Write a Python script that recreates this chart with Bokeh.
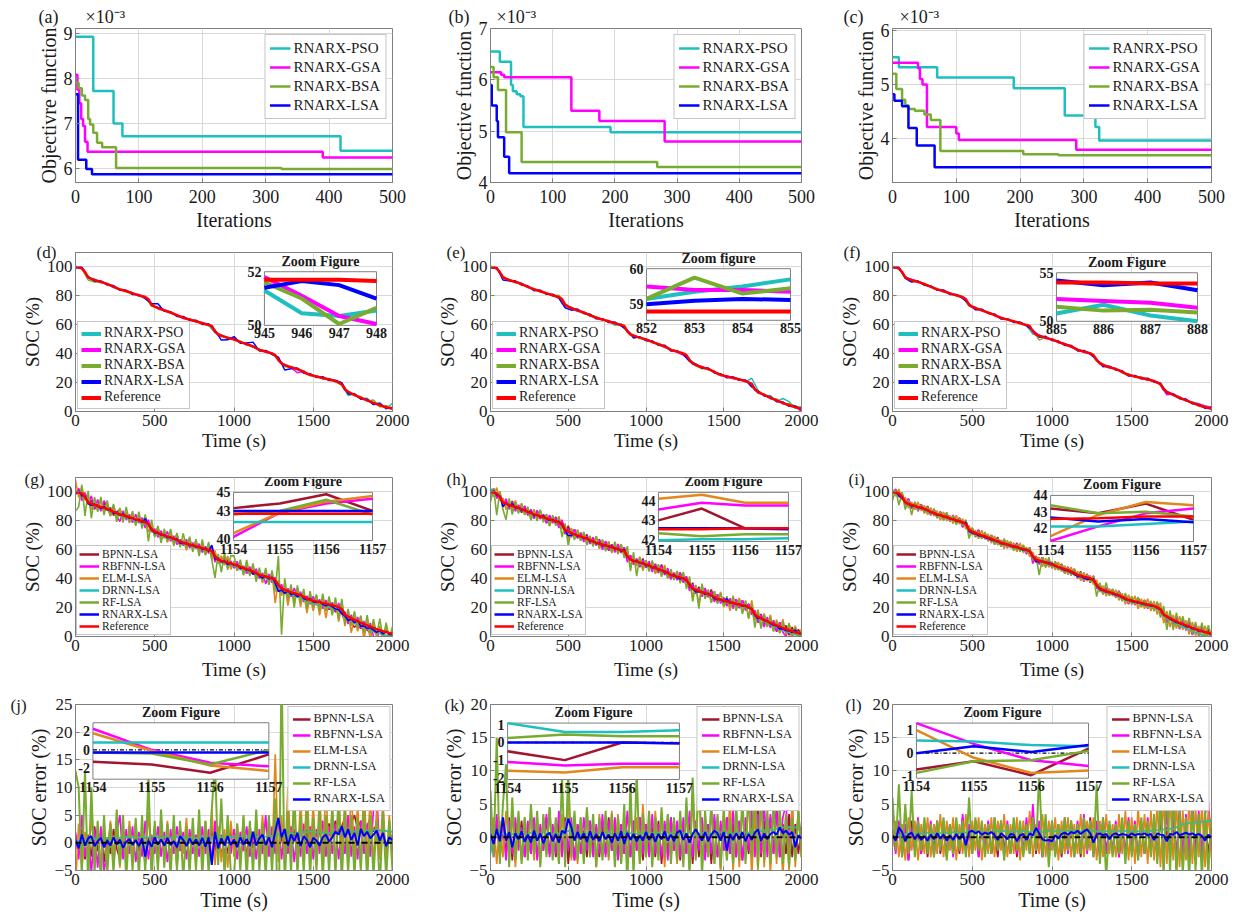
from bokeh.plotting import figure
from bokeh.layouts import gridplot
from bokeh.models import Range1d, Legend, LegendItem, FixedTicker, Span, Title
from bokeh.embed import file_html
from bokeh.resources import INLINE
from bokeh.core.properties import value

SERIF = "Liberation Serif"
CYAN = "#1FBFBF"; MAG = "#FF00FF"; GRN = "#77AC30"; BLU = "#0000FF"
RED = "#FF0000"; DRED = "#A2142F"; ORG = "#E3861B"
TXT = "#1A1A1A"; AXC = "#7F7F7F"

# ---------------- Row 1: convergence (x 1e-3) ----------------
ITER_TICKS = [0, 100, 200, 300, 400, 500]
a_pso_x = [0, 28, 60, 74, 418, 500]; a_pso_y = [8.92, 7.72, 7.0, 6.72, 6.40, 6.40]
a_gsa_x = [0, 3, 6, 9, 12, 15, 19, 390, 500]; a_gsa_y = [8.08, 7.75, 7.45, 7.1, 6.95, 6.6, 6.38, 6.25, 6.25]
a_bsa_x = [0, 5, 10, 15, 20, 23, 28, 34, 42, 64, 325, 500]; a_bsa_y = [7.9, 7.78, 7.62, 7.52, 7.1, 6.98, 6.8, 6.58, 6.48, 6.02, 6.0, 6.0]
a_lsa_x = [0, 4, 17, 26, 500]; a_lsa_y = [7.65, 6.2, 6.0, 5.88, 5.88]

b_pso_x = [0, 15, 33, 36, 42, 48, 53, 193, 500]; b_pso_y = [6.55, 6.35, 5.9, 5.78, 5.72, 5.68, 5.08, 4.98, 4.98]
b_gsa_x = [0, 17, 22, 130, 175, 280, 500]; b_gsa_y = [6.15, 6.1, 6.05, 5.4, 5.2, 4.8, 4.8]
b_bsa_x = [0, 5, 12, 25, 50, 268, 500]; b_bsa_y = [6.25, 6.05, 5.8, 4.98, 4.4, 4.3, 4.3]
b_lsa_x = [0, 2, 10, 12, 22, 30, 500]; b_lsa_y = [5.9, 5.5, 5.2, 4.88, 4.5, 4.18, 4.18]

c_pso_x = [0, 10, 70, 190, 270, 318, 324, 500]; c_pso_y = [5.5, 5.32, 5.13, 4.93, 4.43, 4.22, 3.97, 3.97]
c_gsa_x = [0, 40, 43, 47, 54, 100, 104, 288, 500]; c_gsa_y = [5.4, 5.3, 5.1, 5.0, 4.22, 4.1, 3.98, 3.8, 3.8]
c_bsa_x = [0, 6, 15, 20, 25, 35, 50, 60, 75, 205, 260, 500]; c_bsa_y = [5.2, 4.92, 4.72, 4.62, 4.55, 4.52, 4.45, 4.35, 3.78, 3.72, 3.70, 3.70]
c_lsa_x = [0, 3, 15, 25, 38, 66, 500]; c_lsa_y = [4.82, 4.7, 4.6, 4.2, 3.88, 3.48, 3.48]

# ---------------- Reference SOC (every 20 s) ----------------
T = list(range(0, 2001, 20))
REF = [
    100.0, 99.6, 99.0, 96.5, 92.8, 91.8, 91.0, 90.3, 89.6, 89.0,
    88.2, 87.2, 86.2, 85.3, 84.5, 83.9, 83.2, 82.5, 81.7, 81.0,
    80.4, 79.7, 79.0, 77.8, 73.8, 72.6, 71.6, 70.7, 70.0, 69.2,
    68.4, 67.6, 66.6, 65.7, 64.9, 64.2, 63.6, 63.0, 62.4, 61.7,
    61.1, 60.4, 59.9, 59.2, 55.5, 53.2, 52.4, 51.8, 51.1, 50.4,
    49.8, 49.0, 48.1, 47.3, 46.5, 45.8, 45.0, 43.8, 42.6, 42.0,
    41.4, 40.8, 40.2, 39.0, 35.6, 33.2, 32.2, 31.3, 30.6, 30.0,
    29.3, 28.5, 27.4, 26.1, 25.4, 24.8, 24.2, 23.7, 23.2, 22.7,
    22.2, 21.6, 21.0, 20.2, 19.0, 15.2, 13.6, 12.5, 11.5, 10.5,
    9.5, 8.6, 7.7, 6.8, 6.0, 5.1, 4.3, 3.6, 3.0, 2.4,
    1.9]
T2 = T[::2]
REF2 = REF[::2]

# ---------------- Row 2: deviations of estimates from reference (every 40 s) ----------------
d_pso = [0.3, 0.5, -0.4, 0.6, -0.3, 0.4, -0.5, 0.3, 0.6, -0.4,
         0.2, -0.6, 0.5, -0.3, 0.4, 0.7, -0.5, 0.3, -0.4, 0.6,
         0.2, -0.3, -1.0, 0.5, -0.4, 0.3, 0.6, -0.5, 0.4, -0.3,
         0.5, -0.6, 1.0, -0.8, 0.4, -0.5, 0.6, -0.3, 0.4, -0.6,
         0.5, 0.3, -0.4, -2.5, 0.6, -0.5, 1.5, -1.0, 2.0, -1.5,
         4.0]
d_gsa = [-0.4, 0.6, 0.3, -0.5, 0.4, -0.3, 0.5, -0.6, 0.3, 0.4,
         -0.5, 0.6, -0.4, 0.3, 0.5, -0.3, 0.4, -0.6, 0.5, -0.4,
         0.3, 0.6, -0.5, 0.4, -0.3, 0.5, -0.4, 0.6, -0.3, 0.4,
         -0.5, 0.3, 0.6, -0.4, -0.3, -2.5, 0.5, -0.4, 0.6, -0.5,
         0.4, -0.3, 0.6, -1.2, 0.5, -0.8, 0.6, -1.0, 1.2, -0.8,
         0.5]
d_bsa = [0.5, -0.3, -1.8, -1.5, 0.4, -0.5, 0.6, -0.4, 0.3, 0.5,
         -0.4, 0.6, -1.0, 0.4, -0.3, 0.5, -0.6, 0.4, 0.3, -0.5,
         0.6, -0.4, 0.5, -0.3, -0.6, 0.4, -0.5, 0.6, -0.4, 0.3,
         0.5, -0.4, 0.6, -1.2, 0.4, -0.3, 0.5, -0.6, 0.4, -0.5,
         0.6, -0.3, -1.0, 0.5, -0.6, 0.8, -0.5, 2.0, -1.0, 1.0,
         0.5]
d_lsa = [-0.6, 0.8, 0.5, -0.8, 0.7, -0.6, 0.9, -0.5, 0.6, -0.8,
         0.5, -0.9, 0.8, 3.0, -0.7, 0.6, -0.8, 0.9, -0.6, 0.7,
         -0.9, 0.6, 0.8, -3.0, -1.5, 2.0, -0.8, 0.9, 3.0, -0.7,
         0.8, -0.6, 2.0, -3.5, -1.0, 0.8, -0.9, 0.7, -0.6, 0.9,
         -0.8, 0.7, 1.0, -1.5, 0.8, -0.9, 0.7, -1.2, 0.9, -0.7,
         0.8]
e_pso = [0.4, -0.3, 0.5, -0.4, 0.3, 0.6, -0.5, 0.4, -0.3, 0.5,
         -0.6, 0.4, 0.3, -0.5, -0.8, 0.6, -0.4, 0.5, -0.3, 0.4,
         -1.5, 0.6, -0.5, 0.4, -0.3, 0.5, -0.4, 0.6, -0.5, 0.3,
         0.5, -0.6, 0.4, 0.3, -0.5, 0.6, -0.4, 0.5, -0.3, 0.6,
         0.4, -0.5, 4.0, 1.0, -0.6, 1.5, -0.8, 3.0, 2.5, -1.0,
         1.5]
e_gsa = [-0.3, 0.5, 0.4, -0.5, 0.3, -0.4, 0.6, -0.3, 0.5, -0.4,
         0.3, 0.6, -0.5, 0.4, -0.3, 0.5, -0.6, 0.4, 0.3, -0.5,
         0.6, -0.4, 0.5, -0.3, 0.4, -0.5, 0.6, -0.4, 0.3, 0.5,
         -0.4, -1.2, 0.4, -0.5, 0.6, -0.3, 0.4, -0.6, 0.5, -0.4,
         0.3, -0.5, 0.6, -1.0, 0.4, -0.6, 0.5, -0.8, 1.0, 0.5,
         -2.0]
e_bsa = [0.5, -0.4, 0.6, 0.3, -0.5, 0.4, -0.3, 0.6, -0.4, 0.5,
         -0.3, 1.5, 1.0, -0.5, 0.4, -0.6, 0.5, 0.3, -0.4, 0.6,
         -0.5, 0.4, -0.3, 0.5, -0.6, 0.4, 0.3, -0.5, -0.6, 0.4,
         0.3, -0.5, 0.6, -0.4, -1.0, 0.5, -0.4, 0.6, -0.3, 0.5,
         -0.6, 0.4, -0.5, -1.0, 0.6, -0.4, 1.0, -0.6, 1.2, 0.6,
         0.4]
e_lsa = [-0.5, 0.7, -1.8, -0.6, 0.8, -0.7, 0.6, -0.9, 0.7, -0.6,
         0.8, -0.7, -2.0, -1.5, 0.9, -0.6, 0.7, -0.8, 0.6, -0.9,
         0.7, -0.6, 0.8, -1.5, 0.6, -0.8, 0.7, -0.6, 0.9, -0.7,
         0.6, -0.8, -1.0, 0.7, -0.6, 0.8, -0.7, 0.6, -0.9, 0.7,
         -0.6, 0.8, -2.0, 0.6, -0.8, 0.7, -0.9, 0.6, -0.7, 0.8,
         -0.6]
f_pso = [0.5, -0.4, 0.6, -0.3, 0.4, -0.5, 0.3, 0.6, -0.4, 0.5,
         -0.3, 0.4, -0.6, 0.5, -0.4, 0.3, 0.6, -0.5, 0.4, -0.3,
         0.5, -0.4, -2.0, 0.4, -0.6, 0.5, -0.3, 0.4, -0.5, 0.6,
         -0.4, 0.3, 0.5, -0.6, 0.4, -0.3, 0.5, -0.4, 0.6, -0.5,
         0.4, -0.3, 0.6, -0.5, 0.4, 0.8, -0.4, 0.6, 1.0, 0.8,
         0.6]
f_gsa = [-0.4, 0.5, -0.3, 0.4, 0.6, -0.5, 0.3, -0.4, 0.5, -0.6,
         0.4, 0.3, -0.5, -1.0, 0.6, -0.4, 0.5, -0.3, 0.4, -0.5,
         0.6, -0.4, 0.3, 0.5, -0.6, 0.4, -0.3, 0.5, -0.4, 0.6,
         -0.5, 0.4, -0.3, 0.5, -0.4, 0.6, -0.5, 0.3, -0.4, 0.5,
         -0.6, 0.4, -0.5, -2.0, 0.6, -0.4, 0.5, -0.3, 1.0, 0.8,
         1.2]
f_bsa = [0.4, -0.5, 0.3, -0.6, 0.5, -0.4, 0.6, -0.3, 0.4, -0.5,
         0.3, 0.6, -0.4, -1.0, 0.5, -0.3, 0.4, -0.6, 0.5, -0.4,
         0.3, -0.5, 0.6, -3.0, 0.4, -0.3, 0.5, -0.4, 0.6, -0.5,
         0.4, 0.3, -0.6, 0.5, -0.4, 0.3, -0.5, 0.6, -0.4, 0.5,
         -0.3, 0.4, -0.6, 0.5, -0.4, 0.6, -0.3, 0.4, -0.5, 0.6,
         -0.4]
f_lsa = [-0.6, 0.8, -0.7, -1.5, 0.6, -0.8, 0.7, -0.6, 0.9, -0.7,
         0.6, -0.8, 0.7, -1.2, 0.8, -0.6, 0.7, -0.9, 0.6, -0.8,
         0.7, -0.6, 0.8, -1.0, 0.9, -0.7, 0.6, -0.8, 0.7, -0.6,
         0.8, -0.7, 0.6, -1.2, 0.7, -0.6, 0.8, -0.9, 0.7, -0.6,
         0.8, -0.7, 0.6, -0.8, 0.7, -0.6, 0.9, -0.7, 0.6, -0.8,
         0.7]

# ---------------- Rows 3-4: SOC errors (reference - estimate), every 20 s ----------------
j_bp = [1.5, -2.0, 2.5, -3.0, 1.0, -2.5, 3.0, -1.5, 2.0, -3.5,
        1.0, -2.0, 2.5, -1.0, -3.0, 2.0, -2.5, 1.5, -3.0, 2.5,
        -1.5, 2.0, -4.0, 1.0, -2.0, 3.0, -2.5, 1.5, -1.0, 2.0,
        -3.0, 1.5, -2.0, 2.5, -1.5, 1.0, -3.0, 2.0, -2.5, 1.5,
        -2.0, 2.5, -3.5, 3.0, -1.5, 2.0, -2.5, 1.0, -2.0, 2.5,
        -1.5, 2.0, -3.0, 1.5, -2.5, 3.0, -1.0, 2.0, -2.5, 1.5,
        -2.0, 2.5, -3.0, 3.5, -2.0, 1.5, -2.5, 3.0, -2.0, 2.5,
        -1.5, 3.0, -2.0, 2.5, -3.0, 2.0, -1.5, 3.0, -2.5, 2.0,
        3.5, 1.0, 4.0, 2.0, 3.0, 4.5, 1.5, 3.5, 5.0, 2.5,
        4.0, 1.5, 3.0, 4.5, 2.0, 3.5, -1.0, 2.5, -2.0, 1.5,
        1.0]
j_rbf = [2.0, -3.0, 5.0, -2.5, 1.5, -5.5, 2.5, -4.5, 3.0, -5.0,
         -2.0, 3.5, -4.0, 2.0, 5.0, -3.0, 2.5, -2.0, 3.0, -3.5,
         2.0, -2.5, 4.0, -3.0, 1.5, -2.0, 3.0, -2.5, 2.0, -3.5,
         2.5, -2.0, 3.0, -1.5, 2.0, -3.0, 2.5, -2.0, 1.5, -2.5,
         3.0, -2.0, 2.5, -3.5, 4.0, -2.0, 1.5, -2.5, 3.0, -2.0,
         2.5, -3.0, 2.0, -1.5, 3.0, -2.5, 2.0, -3.0, 2.5, -2.0,
         5.0, -2.5, 3.0, -2.0, 4.5, -3.0, 2.5, -2.0, 3.0, -3.5,
         2.0, -2.5, 3.5, -2.0, 3.0, -3.0, 2.5, -2.0, 4.0, -2.5,
         3.0, -2.0, 3.5, -3.0, 2.5, -2.0, 5.0, -2.5, 3.0, -3.0,
         4.0, -2.0, 3.5, -2.5, 6.0, 9.0, -2.0, 3.0, -2.5, 2.0,
         -1.5]
j_elm = [-8.0, 3.5, -4.5, 2.0, -3.0, 4.5, -2.5, 3.0, -4.0, 2.5,
         -3.5, 4.0, -2.0, 3.0, -4.5, 2.5, -3.0, 4.0, -2.5, 3.5,
         -4.0, 2.0, -3.5, 5.5, -3.0, 2.5, -4.0, 3.5, -2.5, 4.0,
         -3.0, 2.5, -4.5, 3.0, -2.0, 4.5, -3.5, 2.5, -4.0, 3.0,
         -3.0, 4.0, -2.5, 6.0, -4.0, 3.0, -3.5, 2.5, -4.5, 4.0,
         -2.5, 3.5, -3.0, 4.5, -4.0, 2.5, -3.5, 4.0, -2.0, 5.0,
         -3.0, 4.5, -4.0, 16.0, -3.5, 5.0, -4.5, 10.0, -3.0, 6.0,
         -4.0, 8.0, -3.5, 10.0, -2.5, 7.0, -4.0, 9.0, -3.0, 10.0,
         -3.5, 6.0, -4.5, 10.0, -2.5, 8.0, -4.0, 10.0, -3.0, 7.0,
         -4.5, 11.0, -3.5, 9.0, -4.0, 6.0, -3.0, 8.0, -4.5, 5.0,
         -3.0]
j_drnn = [0.2, 0.4, 0.3, 0.5, 0.6, 0.5, 0.7, 0.6, 0.8, 0.7,
          0.8, 0.9, 0.8, 1.0, 0.9, 1.0, 1.1, 0.9, 1.0, 1.2,
          1.0, 1.1, 0.9, 1.0, 1.2, 1.1, 1.0, 0.9, 1.1, 1.0,
          0.9, 1.0, 1.1, 0.9, 1.0, 0.8, 0.9, 1.0, 0.8, 0.9,
          1.0, 0.9, 0.8, 1.0, 0.9, 1.1, 1.0, 0.9, 1.1, 1.0,
          1.2, 1.1, 1.0, 1.2, 1.1, 1.3, 1.2, 1.1, 1.0, 1.2,
          1.1, 1.3, 1.2, 1.4, 1.5, 1.4, 1.6, 1.5, 1.7, 1.6,
          1.8, 1.9, 2.0, 1.9, 2.1, 2.0, 1.9, 2.0, 1.8, 1.9,
          1.7, 1.8, 1.9, 1.7, 1.8, 2.0, 1.9, 2.1, 2.0, 2.2,
          2.1, 2.3, 2.2, 2.0, 2.4, 2.1, 2.3, 2.0, 2.2, 1.9,
          2.1]
j_rf = [13.0, 10.0, -6.0, 13.0, -8.0, 10.0, -5.5, 4.0, -7.0, 5.0,
        -6.0, 3.5, -5.5, 6.0, -4.0, 5.0, -6.5, 3.0, -5.0, 4.5,
        -6.0, 5.0, -5.5, 12.0, -7.0, 4.0, -5.0, 6.0, -4.5, 3.5,
        -6.0, 5.0, -5.0, 4.0, -6.5, 3.0, -5.5, 4.5, -5.0, 6.0,
        -6.0, 4.0, -5.5, 6.0, 15.0, -4.0, 8.0, -6.0, 5.0, -5.5,
        -6.0, 3.5, -5.0, 5.0, -6.5, 4.0, -5.5, 6.0, -5.0, 3.5,
        -6.0, 5.0, -5.5, 8.0, -20.0, 32.0, -8.0, 6.0, -5.5, 10.0,
        -6.0, 5.0, -5.5, 7.0, -6.0, 4.5, -5.0, 6.0, -6.5, 5.0,
        -5.5, 7.0, -6.0, 8.0, -7.0, 6.0, -5.5, 5.0, -6.0, 4.5,
        -5.0, 6.0, -7.0, 5.0, -6.0, 4.0, -8.0, 5.5, -6.5, 4.0,
        -5.0]
j_rnarx = [0.5, -1.0, 1.5, -0.5, 0.8, 1.2, -0.6, 0.3, 0.9, -0.8,
           0.4, -0.5, 1.0, -0.3, 0.6, -0.9, 0.2, 0.7, -0.4, 0.5,
           -0.6, 0.8, -2.5, 0.4, -0.7, 1.0, -0.3, 0.6, -0.5, 0.9,
           -0.4, 0.3, -0.8, 1.2, 0.5, -0.6, 0.8, -0.3, 0.6, -0.5,
           0.9, -0.7, 1.0, -4.0, 2.0, -1.0, 0.8, -0.5, 1.2, -0.4,
           0.6, -0.8, 1.0, -0.3, 0.7, -0.6, 2.0, -0.5, 0.8, 1.5,
           -0.4, 1.0, -0.8, 2.0, 4.5, 1.0, 2.5, -0.5, 1.5, 0.3,
           1.8, -0.6, 1.2, 0.5, -0.8, 0.9, 0.4, -0.5, 1.0, 1.5,
           0.2, 1.0, 2.0, 1.5, 3.0, 1.0, 2.5, 0.5, 1.8, -0.5,
           2.5, 1.2, 2.0, 0.8, 1.5, 2.2, 0.4, 1.8, -0.6, 1.0,
           0.5]

k_bp = [1.0, -2.0, 2.5, -3.0, 1.5, -2.5, 3.0, -3.5, 2.0, -1.5,
        2.5, -3.0, 1.0, -2.5, 2.0, -3.0, 1.5, -2.0, 3.0, -2.5,
        1.5, -3.0, 2.0, -2.5, 3.0, -4.0, 1.5, -3.5, 2.0, -2.5,
        1.0, -3.0, 2.5, -2.0, 1.5, -3.0, 2.0, -2.5, 3.0, -2.0,
        1.5, -3.0, 2.0, -2.5, 1.0, -3.0, 2.5, -2.0, 3.0, -3.5,
        2.0, -2.5, 1.5, -3.0, 2.5, -4.0, 2.0, -2.5, 3.0, -2.0,
        1.5, -3.5, 2.0, -2.5, 3.0, -4.0, 2.5, -3.0, 1.5, -2.5,
        2.0, -4.0, 2.5, -3.0, 1.5, -2.0, 3.0, -2.5, 2.0, -3.0,
        2.5, -3.5, 1.5, -2.5, 3.0, -2.0, 4.0, -3.0, 2.5, -2.0,
        3.0, -2.5, 4.5, -3.0, 2.0, -2.5, 3.5, -3.0, 2.0, -2.5,
        1.5]
k_rbf = [2.5, -3.0, 3.5, -2.0, 2.0, -3.5, 2.5, -2.5, 3.0, -2.0,
         1.5, -3.0, 2.5, -2.5, 3.0, -3.5, 2.0, -2.0, 3.5, -3.0,
         2.0, -2.5, 4.0, -3.0, 2.5, -2.0, 3.0, -3.5, 2.0, -2.5,
         3.0, -2.0, 2.5, -3.0, 2.0, -2.5, 3.5, -3.0, 2.5, -2.0,
         3.0, -3.5, 2.0, -2.5, 4.0, -3.0, 2.5, -2.0, 3.0, -2.5,
         2.0, -3.0, 3.5, -2.5, 2.0, -3.0, 2.5, -3.5, 3.0, -2.0,
         2.5, -3.0, 3.0, -2.5, 4.0, -3.0, 2.5, -2.0, 3.0, -3.5,
         2.0, -2.5, 3.5, -3.0, 2.5, -2.0, 3.0, -2.5, 4.0, -3.0,
         2.5, -3.5, 3.0, -2.0, 4.0, -3.0, 3.5, -2.5, 5.0, -3.0,
         3.5, -2.5, 4.0, -3.0, 3.0, 5.0, -2.5, 4.5, -3.0, 4.0,
         -2.0]
k_elm = [-1.0, 3.0, -4.0, 2.5, -3.0, 4.0, -2.5, 3.5, -4.5, 2.0,
         -3.5, 3.0, -2.0, 4.0, -3.5, 2.5, -4.0, 3.0, -2.5, 4.5,
         -3.0, 2.5, -4.0, 3.5, -2.5, 6.0, -3.5, 2.5, -4.0, 3.0,
         -2.5, 4.0, -3.0, 2.5, -4.5, 3.5, -3.0, 2.0, -3.5, 4.0,
         -2.5, 3.5, -4.0, 3.0, -3.5, 4.5, -2.5, 3.0, -4.0, 5.0,
         -3.0, 2.5, -3.5, 4.0, -2.5, 3.0, -4.5, 3.5, -3.0, 2.5,
         -4.0, 3.0, -3.5, 4.5, -4.0, 6.0, -3.0, 9.0, -4.5, 3.5,
         -3.0, 5.0, -4.0, 3.0, -5.5, 4.5, -3.5, 6.0, -5.0, 3.5,
         -4.5, 5.0, -3.5, 7.0, -6.0, 4.0, -5.0, 6.0, -4.5, 3.5,
         -5.5, 5.0, -4.0, 4.5, -6.0, 3.5, -5.0, 5.5, -4.5, 4.0,
         -3.0]
k_drnn = [-2.5, 0.5, 0.8, 0.3, 0.6, 0.4, 0.7, 0.5, 0.3, 0.6,
          0.8, 0.5, 0.4, 0.7, 0.6, 0.3, 0.5, 0.8, 0.6, 0.4,
          0.5, 0.7, 0.6, 0.4, 0.8, 1.0, 0.6, 0.5, 0.7, 0.4,
          0.6, 0.5, 0.8, 0.6, 0.4, 0.7, 0.5, 0.6, 0.8, 0.5,
          0.4, 0.6, 0.7, 0.5, 0.8, 0.6, 0.4, 0.5, 0.7, 0.6,
          0.5, 0.8, 0.6, 0.4, 0.7, 0.5, 0.6, 0.8, 0.5, 0.6,
          0.4, 0.7, 0.6, 0.5, 0.8, 0.6, 0.7, 0.5, 0.6, 0.8,
          0.6, 0.5, 0.7, 0.6, 0.8, 0.5, 0.7, 0.6, 0.5, 0.8,
          0.7, 0.6, 0.8, 0.7, 0.9, 0.8, 1.0, 0.9, 1.1, 1.0,
          1.2, 1.1, 1.3, 1.2, 1.5, 1.4, 1.6, 1.3, 1.5, 1.2,
          1.0]
k_rf = [7.0, -3.0, 15.0, -4.0, 5.0, 11.0, -4.5, 6.0, -3.5, 4.0,
        -4.0, 3.0, -3.5, 5.0, -2.5, 4.0, -4.5, 3.5, -3.0, 4.5,
        -3.5, 3.0, -4.0, 9.0, -4.5, 10.0, -3.0, 4.0, -3.5, 3.0,
        -4.0, 4.5, -3.0, 3.5, -4.5, 3.0, -3.5, 4.0, -3.0, 3.5,
        -4.5, 3.0, -4.0, 5.0, -7.0, 8.0, -6.0, 10.0, -4.0, 3.5,
        -3.0, 4.0, -4.5, 3.0, -3.5, 4.5, -3.0, 3.5, -4.0, 3.0,
        -3.5, 4.0, -4.5, 6.0, -6.0, 9.0, -3.5, 12.0, -6.0, 4.0,
        -3.0, 5.0, -4.0, 3.5, -4.5, 4.0, -3.5, 3.0, -4.0, 5.0,
        -3.5, 6.0, -4.0, 8.0, -3.0, 9.0, -4.5, 7.0, -3.5, 4.0,
        -4.0, 5.0, -3.0, 4.5, -4.0, 3.5, -4.5, 3.0, -3.5, 4.0,
        -3.0]
k_rnarx = [0.5, -1.0, 1.2, -0.6, 3.0, -0.5, 0.8, -1.5, 0.6, -0.3,
           0.9, -0.7, 0.4, -0.8, 1.0, -0.5, 0.6, -0.9, 0.3, 0.7,
           -0.6, 0.5, -0.8, 1.0, 0.6, 2.8, 1.5, -0.5, 0.8, -0.3,
           0.6, -0.7, 0.9, -0.4, 0.5, -0.6, 0.8, -0.3, 0.4, -0.8,
           0.6, -0.5, 0.9, -1.0, 0.7, -0.4, 0.5, -0.6, 0.3, -0.5,
           0.8, -0.4, 0.6, -0.7, 0.5, -0.3, 0.9, -0.5, 0.4, -0.6,
           0.7, 1.0, -0.4, 0.6, -0.8, 0.5, 1.2, 0.4, -0.5, 0.8,
           -0.6, 0.4, 1.0, 0.6, -0.5, 0.8, -2.0, 0.5, -0.4, 0.6,
           -0.3, 0.8, -0.6, 0.5, -0.4, 0.7, 1.2, -0.5, 0.6, -0.3,
           0.5, 0.8, 0.4, 1.5, 0.6, 1.0, 0.4, 0.8, -1.5, 0.3,
           -0.2]

l_bp = [1.0, -2.0, 2.0, -3.0, 1.5, -3.5, 2.5, -2.0, 1.0, -2.5,
        2.0, -3.0, 1.5, -2.0, 2.5, -2.5, 1.0, -3.0, 2.0, -2.0,
        1.5, -2.5, 3.0, -2.0, 1.0, -2.5, 2.5, -3.0, 1.5, -2.0,
        2.0, -2.5, 1.0, -3.0, 2.5, -2.0, 1.5, -2.5, 2.0, -3.0,
        1.0, -2.5, 2.0, -2.0, 3.5, -2.5, 1.5, -3.0, 2.5, -2.0,
        1.5, -2.5, 2.0, -3.0, 1.0, -2.0, 2.5, -2.5, 1.5, -3.0,
        2.0, -2.0, 3.0, -2.5, 1.5, -3.0, 2.5, -2.0, 1.0, -2.5,
        2.0, -3.0, 1.5, -2.5, 2.5, -2.0, 1.0, -3.0, 2.0, -2.5,
        1.5, -2.0, 2.5, -3.0, 3.0, -2.5, 1.5, -2.0, 2.0, -3.5,
        3.5, -2.5, 2.0, -3.0, 4.5, -2.0, 2.5, -3.0, 3.0, -2.5,
        1.5]
l_rbf = [1.5, -2.5, 2.5, -1.5, 2.0, -3.5, 1.5, -2.0, 3.0, -2.5,
         2.0, -1.5, 2.5, -3.0, 1.5, -2.0, 2.5, -2.5, 2.0, -3.0,
         1.5, -2.0, 3.5, -2.5, 2.0, -1.5, 2.5, -3.0, 2.0, -2.0,
         2.5, -2.5, 3.0, -2.0, 1.5, -3.0, 2.5, -2.0, 2.0, -2.5,
         1.5, -2.0, 3.0, -2.5, 5.0, -2.0, 2.5, -3.0, 2.0, -2.0,
         2.5, -2.5, 1.5, -2.0, 3.0, -2.5, 2.0, -3.0, 2.5, -2.0,
         3.5, -2.5, 2.0, -3.0, 2.5, -2.0, 3.0, -2.5, 2.0, -2.0,
         2.5, -3.0, 2.0, -2.5, 3.0, -2.0, 2.5, -3.0, 2.0, -2.5,
         3.0, -2.0, 2.5, -3.0, 3.5, -2.5, 4.0, -3.0, 3.0, -2.5,
         4.5, -3.0, 3.5, -2.5, 5.0, -3.0, 4.0, -2.5, 3.5, 5.5,
         -2.0]
l_elm = [-1.5, 2.5, -3.0, 2.0, -3.5, 3.0, -2.0, 2.5, -3.5, 2.0,
         -2.5, 3.0, -3.0, 2.0, -2.5, 3.5, -3.0, 2.5, -2.0, 3.0,
         -3.5, 2.0, -2.5, 3.5, -3.0, 2.5, -2.0, 3.0, -3.5, 2.0,
         -2.5, 3.0, -3.0, 2.5, -2.0, 3.5, -3.0, 2.0, -2.5, 3.0,
         -3.5, 2.5, -2.0, 4.0, -3.0, 2.0, -2.5, 3.5, -3.0, 2.5,
         -2.0, 3.0, -3.5, 2.5, -2.5, 3.0, -3.0, 2.0, -2.5, 3.5,
         -3.0, 2.5, -2.0, 3.0, -3.5, 2.5, -3.0, 3.5, -2.5, 2.0,
         -3.0, 3.5, -2.5, 4.0, -3.5, 3.0, -4.0, 4.5, -3.0, 3.5,
         -4.0, 4.0, -3.5, 5.0, -4.5, 6.0, -4.0, 6.0, -3.5, 5.0,
         -4.5, 4.0, -3.5, 5.5, -4.0, 4.5, -3.0, 5.0, -4.5, 4.0,
         -3.0]
l_drnn = [-0.3, 0.2, 0.4, 0.3, 0.5, 0.4, 0.6, 0.5, 0.4, 0.6,
          0.5, 0.7, 0.6, 0.5, 0.7, 0.6, 0.8, 0.7, 0.6, 0.8,
          0.7, 0.6, 0.8, 0.7, 0.9, 0.8, 0.7, 0.9, 0.8, 0.7,
          0.9, 0.8, 1.0, 0.9, 0.8, 1.0, 0.9, 0.8, 1.0, 0.9,
          0.8, 1.0, 0.9, 0.8, 1.0, 0.9, 1.0, 0.8, 0.9, 1.0,
          0.8, 0.9, 1.0, 0.9, 0.8, 1.0, 0.9, 1.0, 0.8, 0.9,
          1.0, 0.9, 0.8, 1.0, 0.9, 1.0, 0.8, 0.9, 1.0, 0.9,
          0.8, 1.0, 0.9, 1.0, 0.8, 0.9, 1.0, 0.9, 0.8, 1.0,
          0.9, 1.0, 0.9, 1.1, 1.0, 1.2, 1.1, 1.3, 1.2, 1.5,
          1.8, 2.0, 1.9, 2.2, 2.0, 2.3, 2.1, 2.4, 2.2, 2.5,
          2.4]
l_rf = [6.0, -2.0, 8.0, -3.0, 5.0, -2.5, 7.0, -3.0, 2.5, -2.0,
        3.0, -2.5, 2.0, -3.0, 2.5, -2.0, 3.0, -3.5, 2.0, -2.5,
        3.0, -2.0, 2.5, -3.0, 6.0, -2.5, 3.0, -2.0, 2.5, -3.0,
        2.0, -2.5, 3.0, -2.0, 2.5, -3.5, 2.0, -2.5, 3.0, -2.0,
        2.5, -3.0, 2.0, -2.5, 3.0, -2.0, 10.0, -3.0, 3.5, -4.5,
        2.5, -3.0, 2.0, -2.5, 3.0, -2.0, 2.5, -3.0, 2.0, -2.5,
        3.0, -2.0, 2.5, -3.0, 8.0, -4.0, 3.0, -6.0, 2.5, -3.0,
        2.0, -2.5, 3.0, -4.0, 2.5, -3.0, 2.0, -3.5, 3.0, -2.5,
        2.5, -3.0, 3.5, -4.0, 6.0, -6.0, 9.0, -5.5, 7.0, -6.0,
        4.0, -5.5, 3.0, -6.0, 4.5, -5.0, 3.5, -6.0, 4.0, -5.5,
        3.0]
l_rnarx = [0.3, -0.5, 1.5, 0.8, -0.6, 0.4, 0.7, -0.3, 0.5, -0.4,
           0.2, -0.5, 0.4, -0.3, 0.6, -0.2, 0.4, -0.5, 0.3, -0.4,
           0.5, -0.3, 0.6, -1.2, 0.8, 1.0, 0.6, 0.9, 0.4, 0.7,
           0.5, 0.8, 0.3, -0.4, 0.6, 0.2, -0.3, 0.5, 0.4, -0.6,
           0.3, 0.5, -0.4, 0.6, 0.3, 1.4, 0.6, -0.3, -0.5, -0.4,
           -0.6, 0.3, -0.2, 0.5, 0.7, 0.4, 0.8, 0.6, 1.0, 0.5,
           0.9, 1.2, 0.6, -0.8, 0.4, 0.6, 0.3, 0.5, -0.3, 0.4,
           0.6, 0.3, 0.5, 0.4, 0.2, 0.6, 0.3, 0.5, 0.4, 0.6,
           0.3, 0.5, -0.4, 0.6, 0.4, 0.3, -0.6, 0.5, 0.4, 0.8,
           0.3, 0.5, 0.7, 0.4, 0.6, 0.3, 0.5, 0.2, -0.5, 0.4,
           0.0]

# ---------------- Inset (zoom figure) data ----------------
d_zx = [945, 946, 947, 948]
d_z = {"pso": [51.3, 50.45, 50.35, 50.55], "gsa": [51.8, 51.1, 50.35, 50.05],
       "bsa": [51.6, 51.0, 50.05, 50.65], "lsa": [51.4, 51.65, 51.5, 51.0], "ref": [51.7, 51.7, 51.7, 51.65]}
e_zx = [852, 853, 854, 855]
e_z = {"pso": [59.15, 59.35, 59.5, 59.7], "gsa": [59.5, 59.4, 59.4, 59.35],
       "bsa": [59.15, 59.75, 59.3, 59.45], "lsa": [59.0, 59.1, 59.15, 59.12], "ref": [58.8, 58.8, 58.8, 58.8]}
f_zx = [885, 886, 887, 888]
f_z = {"pso": [50.8, 51.7, 50.6, 50.0], "gsa": [52.3, 52.1, 51.9, 51.4],
       "bsa": [51.5, 51.1, 51.2, 50.9], "lsa": [54.2, 53.7, 54.0, 53.2], "ref": [54.0, 54.0, 53.9, 53.9]}
z_x = [1154, 1155, 1156, 1157]
g_z = {"bp": [43.3, 43.8, 44.8, 43.0], "rbf": [40.2, 42.8, 43.8, 44.3], "elm": [40.6, 42.8, 44.0, 44.6],
       "drnn": [41.8, 41.8, 41.8, 41.8], "rf": [42.6, 43.0, 44.2, 42.6], "rnarx": [43.0, 43.0, 43.0, 43.0],
       "ref": [42.7, 42.7, 42.7, 42.7]}
h_z = {"bp": [43.0, 43.6, 42.6, 42.6], "rbf": [43.55, 43.9, 43.75, 43.75], "elm": [44.1, 44.3, 43.9, 43.9],
       "drnn": [42.0, 42.05, 42.05, 42.1], "rf": [42.35, 42.2, 42.3, 42.3], "rnarx": [42.6, 42.6, 42.6, 42.55],
       "ref": [42.55, 42.55, 42.6, 42.6]}
i_z = {"bp": [43.2, 42.9, 43.5, 42.5], "rbf": [41.2, 42.1, 42.9, 43.2], "elm": [41.5, 42.8, 43.6, 43.4],
       "drnn": [42.1, 42.1, 42.25, 42.4], "rf": [43.4, 42.9, 43.0, 42.7], "rnarx": [42.65, 42.4, 42.55, 42.35],
       "ref": [42.55, 42.6, 42.7, 42.7]}
j_z = {"bp": [-1.3, -1.6, -2.5, -0.5], "rbf": [2.3, 0.0, -1.4, -1.8], "elm": [1.8, -0.1, -1.7, -2.3],
       "drnn": [0.8, 0.8, 0.8, 0.8], "rf": [-0.3, -0.4, -1.6, 0.0], "rnarx": [-0.3, -0.3, -0.3, -0.3]}
k_z = {"bp": [-0.5, -1.0, 0.0, -0.05], "rbf": [-1.1, -1.3, -1.2, -1.2], "elm": [-1.6, -1.7, -1.4, -1.4],
       "drnn": [1.1, 0.6, 0.6, 0.7], "rf": [0.25, 0.45, 0.35, 0.35], "rnarx": [0.0, 0.0, 0.0, -0.05]}
l_z = {"bp": [-0.7, -0.35, -0.95, 0.2], "rbf": [1.3, 0.4, -0.3, -0.55], "elm": [1.0, -0.2, -0.85, -0.75],
       "drnn": [0.55, 0.5, 0.35, 0.3], "rf": [-0.85, -0.35, -0.3, 0.1], "rnarx": [0.0, 0.3, 0.05, 0.35]}

OPT_NAMES = ["RNARX-PSO", "RNARX-GSA", "RNARX-BSA", "RNARX-LSA"]
OPT_COLS = [CYAN, MAG, GRN, BLU]
ML_NAMES = ["BPNN-LSA", "RBFNN-LSA", "ELM-LSA", "DRNN-LSA", "RF-LSA", "RNARX-LSA"]
ML_KEYS = ["bp", "rbf", "elm", "drnn", "rf", "rnarx"]
ML_COLS = [DRED, MAG, ORG, CYAN, GRN, BLU]
SOC_TICKS = [0, 20, 40, 60, 80, 100]
TIME_TICKS = [0, 500, 1000, 1500, 2000]

# layout geometry (per column / per row)
COL_W = [410, 410, 420]
COL_LR = [(75, 18), (80, 19), (72, 29)]
ROW_H = [234, 225, 227, 230]
ROW_TB = [(28, 52), (18, 48), (18, 50), (18, 46)]
ROW_XSTAND = [(7, 3), (3, 1), (3, 5), (3, 1)]
EN = "\u2002"


def base_fig(col, row, xr, yr, xt, yt, xlabel, ylabel, tick_fs="17px", lab_fs="19px"):
    bl, br = COL_LR[col]
    bt, bb = ROW_TB[row]
    p = figure(width=COL_W[col], height=ROW_H[row], x_range=Range1d(*xr), y_range=Range1d(*yr),
               output_backend="svg", toolbar_location=None, title=None,
               min_border_left=bl, min_border_right=br, min_border_top=bt, min_border_bottom=bb)
    p.xaxis.ticker = FixedTicker(ticks=xt)
    p.yaxis.ticker = FixedTicker(ticks=yt)
    p.xaxis.axis_label = xlabel
    p.yaxis.axis_label = ylabel
    for ax in p.axis:
        ax.major_label_text_font = SERIF
        ax.major_label_text_font_size = tick_fs
        ax.major_label_text_color = TXT
        ax.axis_label_text_font = SERIF
        ax.axis_label_text_font_size = lab_fs
        ax.axis_label_text_font_style = "normal"
        ax.axis_label_text_color = TXT
        ax.axis_line_color = AXC
        ax.major_tick_line_color = AXC
        ax.major_tick_in = 4
        ax.major_tick_out = 0
        ax.minor_tick_line_color = None
        ax.major_label_standoff = 3
        ax.axis_label_standoff = 1
    p.xaxis.major_label_standoff = ROW_XSTAND[row][0]
    p.xaxis.axis_label_standoff = ROW_XSTAND[row][1]
    p.grid.grid_line_color = "#D9D9D9"
    p.outline_line_color = AXC
    return p


def panel_title(p, txt, offset, standoff, fs="17px"):
    p.add_layout(Title(text=txt, align="left", offset=offset, standoff=standoff, text_font=SERIF,
                       text_font_size=fs, text_font_style="normal", text_color=TXT), "above")


def make_legend(p, items, loc, fs, gw, lh, pad, margin, spacing=0):
    lg = Legend(items=items, location=loc)
    lg.label_text_font = SERIF
    lg.label_text_font_size = fs
    lg.label_text_color = TXT
    lg.glyph_width = gw
    lg.glyph_height = lh
    lg.label_height = lh
    lg.label_standoff = 3
    lg.padding = pad
    lg.margin = margin
    lg.spacing = spacing
    lg.border_line_color = "#8C8C8C"
    lg.border_line_width = 1
    lg.background_fill_color = "white"
    lg.background_fill_alpha = 1.0
    p.add_layout(lg)


def add_inset(p, zx, src_y, tgt_x, tgt_y, series, lw, yticks, title, zero=False):
    src_x = (zx[0], zx[-1])
    sub = p.subplot(x_source=Range1d(*src_x), y_source=Range1d(*src_y),
                    x_target=Range1d(*tgt_x), y_target=Range1d(*tgt_y))
    sub.quad(left=[src_x[0]], right=[src_x[1]], bottom=[src_y[0]], top=[src_y[1]],
             fill_color="white", line_color=AXC, line_width=1)
    if zero:
        sub.line(x=list(src_x), y=[0, 0], line_color="black", line_dash="4 2 1 2", line_width=1.3)
    rends = []
    for vals, col in series:
        rends.append(sub.line(zx, vals, line_color=col, line_width=lw))
    bold = dict(text_font=value(SERIF), text_font_style="bold", text_font_size="14px", text_color=TXT)
    sub.text(x=zx, y=[src_y[0]] * len(zx), text=[str(v) for v in zx], text_align="center",
             text_baseline="top", y_offset=3, **bold)
    sub.text(x=[src_x[0]] * len(yticks), y=yticks, text=[str(v) for v in yticks], text_align="right",
             text_baseline="middle", x_offset=-3, **bold)
    sub.text(x=[(src_x[0] + src_x[1]) / 2], y=[src_y[1]], text=[title], text_align="center",
             text_baseline="bottom", y_offset=-3, **bold)
    return rends


# ---------------- Row 1 ----------------
def conv_panel(col, label, gap, offset, yr, yt, ylabel, data, names):
    p = base_fig(col, 0, (0, 500), yr, ITER_TICKS, yt, "Iterations", ylabel, tick_fs="18px", lab_fs="20px")
    items = []
    for (xs, ys), c, nm in zip(data, OPT_COLS, names):
        r = p.step(xs, ys, mode="after", line_color=c, line_width=2.5)
        items.append(LegendItem(label=nm, renderers=[r]))
    make_legend(p, items, "top_right", "15px", 21, 18, 4, 6, 1)
    panel_title(p, label + EN * gap + "×10⁻³", offset, 4, fs="18px")
    return p


pa = conv_panel(0, "(a)", 3, -37, (5.7, 9.1), [6, 7, 8, 9], "Objectivre function",
                [(a_pso_x, a_pso_y), (a_gsa_x, a_gsa_y), (a_bsa_x, a_bsa_y), (a_lsa_x, a_lsa_y)], OPT_NAMES)
pb = conv_panel(1, "(b)", 3, -42, (4.0, 7.0), [4, 5, 6, 7], "Objective function",
                [(b_pso_x, b_pso_y), (b_gsa_x, b_gsa_y), (b_bsa_x, b_bsa_y), (b_lsa_x, b_lsa_y)], OPT_NAMES)
pc = conv_panel(2, "(c)", 4, -49, (3.2, 6.03), [4, 5, 6], "Objective function",
                [(c_pso_x, c_pso_y), (c_gsa_x, c_gsa_y), (c_bsa_x, c_bsa_y), (c_lsa_x, c_lsa_y)],
                ["RANRX-PSO", "RNARX-GSA", "RNARX-BSA", "RNARX-LSA"])


# ---------------- Row 2 ----------------
def opt_soc_panel(col, label, offset, devs, zx, zd, src_y, tgt_x, tgt_y, yticks, title):
    p = base_fig(col, 1, (0, 2000), (0, 110), TIME_TICKS, SOC_TICKS, "Time (s)", "SOC (%)")
    for dev, c in zip(devs, OPT_COLS):
        est = [r + d for r, d in zip(REF2, dev)]
        p.line(T2, est, line_color=c, line_width=1.5)
    p.line(T, REF, line_color=RED, line_width=2.5)
    series = [(zd[k], c) for k, c in zip(["pso", "gsa", "bsa", "lsa"], OPT_COLS)] + [(zd["ref"], RED)]
    rends = add_inset(p, zx, src_y, tgt_x, tgt_y, series, 4, yticks, title)
    items = [LegendItem(label=n, renderers=[r]) for n, r in zip(OPT_NAMES + ["Reference"], rends)]
    make_legend(p, items, "bottom_left", "14px", 20, 15, 3, 2, 0)
    panel_title(p, label, offset, -18)
    return p


pd_ = opt_soc_panel(0, "(d)", -39, [d_pso, d_gsa, d_bsa, d_lsa], d_zx, d_z, (50, 52), (1192, 1899), (59.6, 96.7),
                    [50, 52], "Zoom Figure")
pe = opt_soc_panel(1, "(e)", -44, [e_pso, e_gsa, e_bsa, e_lsa], e_zx, e_z, (58.55, 60), (1003, 1929), (63.1, 98.8),
                   [59, 60], "Zoom figure")
pf = opt_soc_panel(2, "(f)", -49, [f_pso, f_gsa, f_bsa, f_lsa], f_zx, f_z, (50, 55), (1028, 1912), (62.4, 96.0),
                   [50, 55], "Zoom Figure")


# ---------------- Row 3 ----------------
def ml_soc_panel(col, label, offset, errs, zd, src_y, tgt_x, tgt_y, yticks):
    p = base_fig(col, 2, (0, 2000), (0, 110), TIME_TICKS, SOC_TICKS, "Time (s)", "SOC (%)")
    for err, c in zip(errs, ML_COLS):
        est = [r - e for r, e in zip(REF, err)]
        p.line(T, est, line_color=c, line_width=1.6)
    p.line(T, REF, line_color=RED, line_width=2.5)
    series = [(zd[k], c) for k, c in zip(ML_KEYS, ML_COLS)] + [(zd["ref"], RED)]
    rends = add_inset(p, z_x, src_y, tgt_x, tgt_y, series, 2.5, yticks, "Zoom Figure")
    items = [LegendItem(label=n, renderers=[r]) for n, r in zip(ML_NAMES + ["Reference"], rends)]
    make_legend(p, items, "bottom_left", "11.5px", 20, 12, 2, 1, 0)
    panel_title(p, label, offset, -22)
    return p


pg = ml_soc_panel(0, "(g)", -51, [j_bp, j_rbf, j_elm, j_drnn, j_rf, j_rnarx], g_z, (39.8, 45), (997, 1874),
                  (66.4, 99.7), [40, 43, 45])
ph = ml_soc_panel(1, "(h)", -44, [k_bp, k_rbf, k_elm, k_drnn, k_rf, k_rnarx], h_z, (41.93, 44.42), (1080, 1916),
                  (65.7, 99.7), [42, 43, 44])
pi = ml_soc_panel(2, "(i)", -44, [l_bp, l_rbf, l_elm, l_drnn, l_rf, l_rnarx], i_z, (41.17, 44.0), (991, 1887),
                  (65.7, 97.6), [42, 43, 44])


# ---------------- Row 4 ----------------
def err_panel(col, label, offset, errs, zd, yr, yt, src_y, tgt_x, tgt_y, yticks):
    p = base_fig(col, 3, (0, 2000), yr, TIME_TICKS, yt, "Time (s)", "SOC error (%)", tick_fs="17px", lab_fs="20px")
    for err, c in zip(errs, ML_COLS):
        p.line(T, err, line_color=c, line_width=2.0 if c in (BLU, GRN) else 1.7)
    p.add_layout(Span(location=0, dimension="width", line_color="black", line_dash="6 3 1 3", line_width=2))
    series = [(zd[k], c) for k, c in zip(ML_KEYS, ML_COLS)]
    rends = add_inset(p, z_x, src_y, tgt_x, tgt_y, series, 2.5, yticks, "Zoom Figure", zero=True)
    items = [LegendItem(label=n, renderers=[r]) for n, r in zip(ML_NAMES, rends)]
    make_legend(p, items, "top_right", "12.5px", 18, 14, 4, 2, 1)
    panel_title(p, label, offset, -20)
    return p


pj = err_panel(0, "(j)", -65, [j_bp, j_rbf, j_elm, j_drnn, j_rf, j_rnarx], j_z, (-5, 25), [-5, 0, 5, 10, 15, 20, 25],
               (-3.2, 2.95), (110, 1220), (11.5, 21.7), [-2, 0, 2])
pk = err_panel(1, "(k)", -46, [k_bp, k_rbf, k_elm, k_drnn, k_rf, k_rnarx], k_z, (-5, 20), [-5, 0, 5, 10, 15, 20],
               (-2.1, 1.1), (110, 1215), (8.7, 17.2), [-2, -1, 0, 1])
pl = err_panel(2, "(l)", -47, [l_bp, l_rbf, l_elm, l_drnn, l_rf, l_rnarx], l_z, (-5, 20), [-5, 0, 5, 10, 15, 20],
               (-1.08, 1.3), (150, 1229), (8.9, 17.2), [-1, 0, 1])

grid = gridplot([[pa, pb, pc], [pd_, pe, pf], [pg, ph, pi], [pj, pk, pl]], toolbar_location=None)

open("out.html", "w").write(file_html(grid, INLINE))
